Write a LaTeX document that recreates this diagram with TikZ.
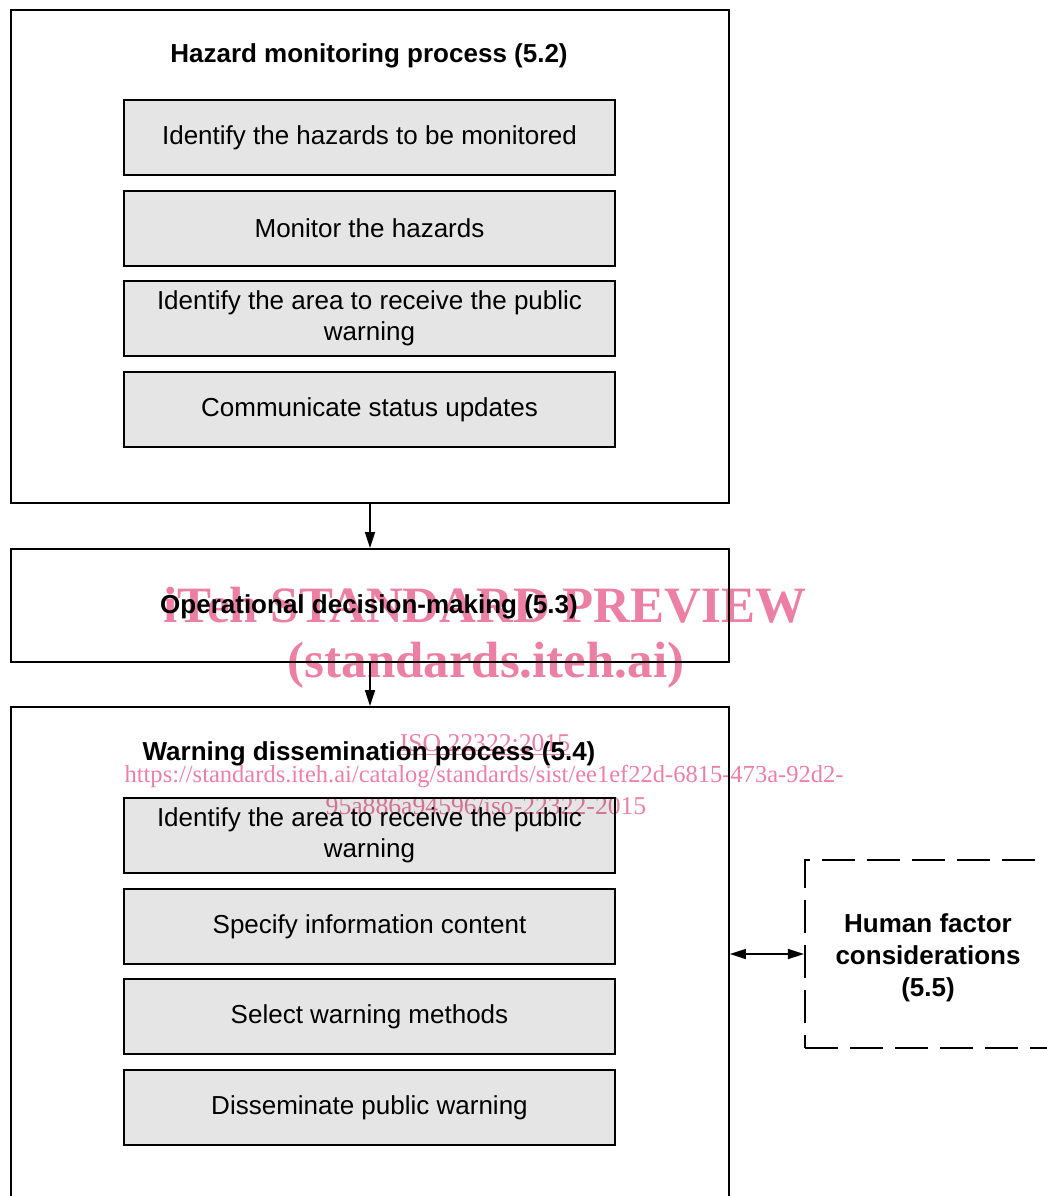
\documentclass[tikz,border=0pt]{standalone}
\usepackage{fontspec}
\setmainfont{Liberation Sans}
\newfontfamily\wmfont{Liberation Serif}
\usetikzlibrary{arrows.meta,positioning}
\definecolor{wmpink}{RGB}{236,128,164}
\begin{document}
\begin{tikzpicture}[x=0.02cm,y=-0.02cm,
    font=\fontsize{14.8}{17.6}\selectfont,
    frame/.style={draw,line width=1.1pt,minimum width=14.36cm},
    task/.style={draw,line width=1.6pt,fill=black!10,minimum width=9.82cm,minimum height=1.5cm,align=center,inner sep=0pt},
    title/.style={font=\fontsize{14.8}{18.1}\selectfont\bfseries},
    link/.style={line width=0.8pt,-{Triangle[length=0.32cm,width=0.2cm]}},
    wmark/.style={text=wmpink,font=\wmfont\fontsize{14.6}{16}\selectfont}]
  \useasboundingbox (0,0) rectangle (1046,1196);

  \node[frame,minimum height=9.86cm] (hazard) at (370,256.5) {};
  \node[title] (hazardtitle) at (369,56) {Hazard monitoring process (5.2)};
  \node[task] (hz1) at (369.5,137.5) {Identify the hazards to be monitored};
  \node[task] (hz2) at (369.5,228.5) {Monitor the hazards};
  \node[task] (hz3) at (369.5,318.5) {Identify the area to receive the public\\warning};
  \node[task] (hz4) at (369.5,409.5) {Communicate status updates};

  \node[frame,minimum height=2.26cm] (decide) at (370,605.5) {};
  \node[title] (decidetitle) at (369,607) {Operational decision-making (5.3)};

  \node[frame,minimum height=11.2cm] (warn) at (370,987) {};
  \node[title] (warntitle) at (369,754) {Warning dissemination process (5.4)};
  \node[task] (wd1) at (369.5,835.5) {Identify the area to receive the public\\warning};
  \node[task] (wd2) at (369.5,926.5) {Specify information content};
  \node[task] (wd3) at (369.5,1016.5) {Select warning methods};
  \node[task] (wd4) at (369.5,1107.5) {Disseminate public warning};

  \node[draw,line width=1.2pt,dash pattern=on 18.8pt off 6.8pt,minimum width=4.92cm,minimum height=3.76cm,
    align=center,title] (human) at (928,954) {};
  \node[title,align=center] (humantext) at (928,958) {Human factor\\considerations\\(5.5)};

  \draw[link] (hazard.south) -- (decide.north);
  \draw[link] (decide.south) -- (warn.north);
  \draw[link,{Triangle[length=0.32cm,width=0.2cm]}-{Triangle[length=0.32cm,width=0.2cm]}] (human.west -| warn.east) -- (human.west);

  \begin{scope}[blend mode=multiply]
    \node[wmark,font=\wmfont\bfseries\fontsize{29}{30}\selectfont] (wm1) at (485,605) {iTeh STANDARD PREVIEW};
    \node[wmark,font=\wmfont\bfseries\fontsize{29}{30}\selectfont] (wm2) at (486,665) {(standards.iteh.ai)};
    \node[wmark] (wm3) at (485,745) {\underline{ISO 22322:2015}};
    \node[wmark,font=\wmfont\fontsize{13.95}{16}\selectfont] (wm4) at (484,777) {https://standards.iteh.ai/catalog/standards/sist/ee1ef22d-6815-473a-92d2-};
    \node[wmark] (wm5) at (486,806) {95a886a94596/iso-22322-2015};
  \end{scope}
\end{tikzpicture}
\end{document}
